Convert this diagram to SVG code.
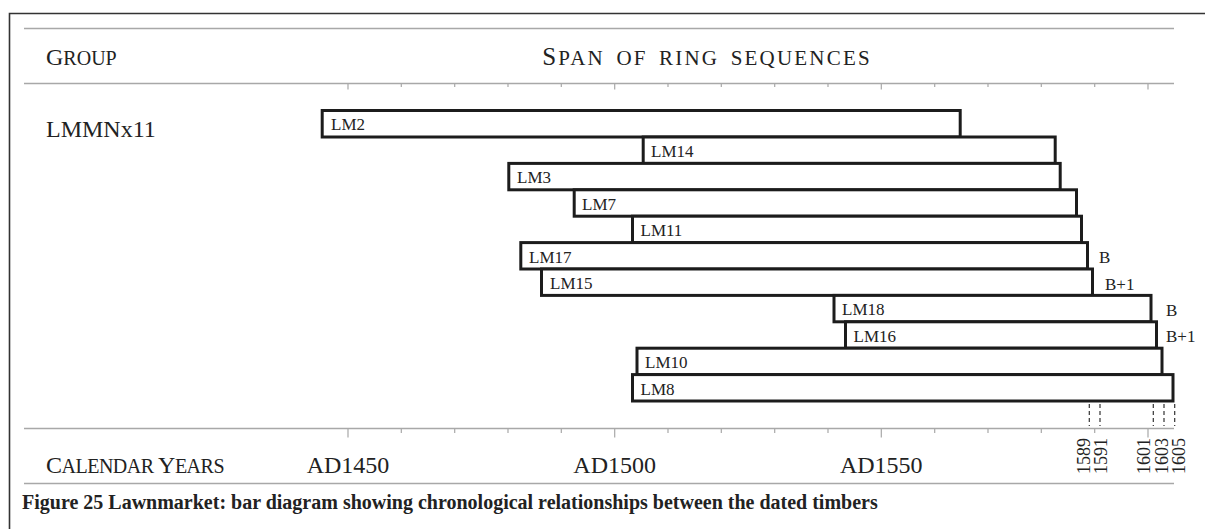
<svg xmlns="http://www.w3.org/2000/svg" width="1205" height="529" viewBox="0 0 1205 529">
<style>
text{font-family:"Liberation Serif","Times New Roman",serif;fill:#222}
.bar{fill:#fff;stroke:#1c1c1c;stroke-width:3}
.lbl{font-size:17px}
.rule{stroke:#a8a8a8;stroke-width:1.5;fill:none}
.tick{stroke:#a8a8a8;stroke-width:1.2;fill:none}
.dash{stroke:#333;stroke-width:1.2;stroke-dasharray:4 3}
.hd{font-size:24px}
.sc{font-size:20px}
.yr{font-size:24px}
.rot{font-size:18px}
.cap{font-size:20px;font-weight:bold}
</style>
<rect width="1205" height="529" fill="#fff"/>
<path d="M9.5,529 V13.5 H1205" fill="none" stroke="#333" stroke-width="1.6"/>
<g id="frame-rules">
<line class="rule" x1="24" y1="28.5" x2="1174" y2="28.5"/>
<line class="rule" x1="24" y1="83.5" x2="1174" y2="83.5"/>
<line class="rule" x1="24" y1="428.5" x2="1174" y2="428.5"/>
<line class="rule" x1="24" y1="483.5" x2="1174" y2="483.5"/>
<path class="tick" d="M348,83.5v6 M401.3,83.5v3.5 M454.7,83.5v3.5 M508,83.5v3.5 M561.3,83.5v3.5 M614.7,83.5v6 M668,83.5v3.5 M721.3,83.5v3.5 M774.7,83.5v3.5 M828,83.5v3.5 M881.3,83.5v6 M934.7,83.5v3.5 M988,83.5v3.5 M1041.3,83.5v3.5 M1094.7,83.5v3.5 M1148,83.5v6"/>
<path class="tick" d="M348,428.5v9 M401.3,428.5v4.5 M454.7,428.5v4.5 M508,428.5v4.5 M561.3,428.5v4.5 M614.7,428.5v9 M668,428.5v4.5 M721.3,428.5v4.5 M774.7,428.5v4.5 M828,428.5v4.5 M881.3,428.5v9 M934.7,428.5v4.5 M988,428.5v4.5 M1041.3,428.5v4.5 M1094.7,428.5v4.5 M1148,428.5v9"/>
</g>
<g id="headers">
<text x="46" y="64.5"><tspan class="hd">G</tspan><tspan class="sc">ROUP</tspan></text>
<text x="707" y="64.5" text-anchor="middle" letter-spacing="2.2" word-spacing="4"><tspan style="font-size:25px">S</tspan><tspan style="font-size:21px">PAN OF RING SEQUENCES</tspan></text>
<text x="46" y="136.5" style="font-size:24px">LMMNx11</text>
</g>
<g id="LM2"><rect class="bar" x="322.2" y="110.5" width="638" height="26.5"/><text class="lbl" x="331" y="129.5">LM2</text></g>
<g id="LM14"><rect class="bar" x="643.2" y="137" width="412" height="26.4"/><text class="lbl" x="651" y="157">LM14</text></g>
<g id="LM3"><rect class="bar" x="508.8" y="163.4" width="551.4" height="26.4"/><text class="lbl" x="517" y="183.4">LM3</text></g>
<g id="LM7"><rect class="bar" x="574.2" y="189.8" width="502.3" height="26.4"/><text class="lbl" x="582" y="209.8">LM7</text></g>
<g id="LM11"><rect class="bar" x="632.5" y="216.2" width="449" height="26.4"/><text class="lbl" x="640.5" y="236.2">LM11</text></g>
<g id="LM17"><rect class="bar" x="520.8" y="242.6" width="566.7" height="26.4"/><text class="lbl" x="529" y="262.6">LM17</text><text class="lbl" x="1099" y="263">B</text></g>
<g id="LM15"><rect class="bar" x="541.5" y="269" width="551" height="26.4"/><text class="lbl" x="550" y="289">LM15</text><text class="lbl" x="1105" y="289.5">B+1</text></g>
<g id="LM18"><rect class="bar" x="834" y="295.4" width="317" height="26.4"/><text class="lbl" x="842" y="315.4">LM18</text><text class="lbl" x="1166" y="316">B</text></g>
<g id="LM16"><rect class="bar" x="845.5" y="321.8" width="311" height="26.4"/><text class="lbl" x="853.5" y="341.8">LM16</text><text class="lbl" x="1166" y="342">B+1</text></g>
<g id="LM10"><rect class="bar" x="637" y="348.2" width="525" height="26.4"/><text class="lbl" x="645" y="368.2">LM10</text></g>
<g id="LM8"><rect class="bar" x="632.5" y="374.6" width="540.5" height="26.4"/><text class="lbl" x="640.5" y="394.6">LM8</text></g>
<g id="connectors">
<line class="dash" x1="1089.3" y1="404" x2="1089.3" y2="426"/>
<line class="dash" x1="1100" y1="404" x2="1100" y2="426"/>
<line class="dash" x1="1153.3" y1="404" x2="1153.3" y2="426"/>
<line class="dash" x1="1164" y1="404" x2="1164" y2="426"/>
<line class="dash" x1="1174.7" y1="404" x2="1174.7" y2="426"/>
</g>
<g id="axis-labels">
<text x="46" y="473" letter-spacing="-0.5"><tspan class="hd">C</tspan><tspan class="sc">ALENDAR </tspan><tspan class="hd">Y</tspan><tspan class="sc">EARS</tspan></text>
<text class="yr" x="348" y="473" text-anchor="middle">AD1450</text>
<text class="yr" x="614.7" y="473" text-anchor="middle">AD1500</text>
<text class="yr" x="881.3" y="473" text-anchor="middle">AD1550</text>
<text class="rot" transform="translate(1090,474) rotate(-90)">1589</text>
<text class="rot" transform="translate(1107,474) rotate(-90)">1591</text>
<text class="rot" transform="translate(1150,474) rotate(-90)">1601</text>
<text class="rot" transform="translate(1168,474) rotate(-90)">1603</text>
<text class="rot" transform="translate(1185,474) rotate(-90)">1605</text>
</g>
<text class="cap" x="22" y="509">Figure 25 Lawnmarket: bar diagram showing chronological relationships between the dated timbers</text>
</svg>
